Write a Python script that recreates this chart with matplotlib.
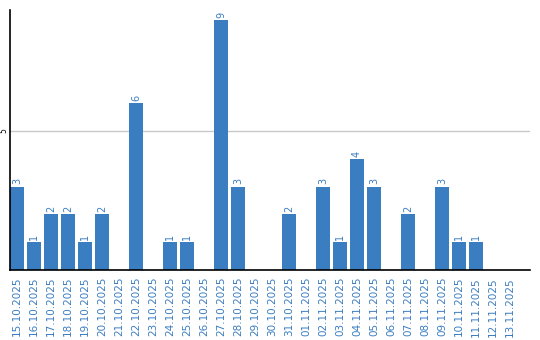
import matplotlib
matplotlib.use("Agg")
import matplotlib.pyplot as plt
import numpy as np

dates = ["15.10.2025", "16.10.2025", "17.10.2025", "18.10.2025", "19.10.2025",
         "20.10.2025", "21.10.2025", "22.10.2025", "23.10.2025", "24.10.2025",
         "25.10.2025", "26.10.2025", "27.10.2025", "28.10.2025", "29.10.2025",
         "30.10.2025", "31.10.2025", "01.11.2025", "02.11.2025", "03.11.2025",
         "04.11.2025", "05.11.2025", "06.11.2025", "07.11.2025", "08.11.2025",
         "09.11.2025", "10.11.2025", "11.11.2025", "12.11.2025", "13.11.2025"]
counts = [3, 1, 2, 2, 1, 2, 0, 6, 0, 1,
          1, 0, 9, 3, 0, 0, 2, 0, 3, 1,
          4, 3, 0, 2, 0, 3, 1, 1, 0, 0]

blue = "#3b7dc1"

fig = plt.figure(figsize=(5.4, 3.4), dpi=100)
ax = fig.add_axes([10/540, 70/340, 520/540, 260/340])

x = np.arange(len(dates))
w = 14/17
ax.bar(x, counts, width=w, color=blue, zorder=2)

for xi, c in zip(x, counts):
    if c > 0:
        ax.text(xi, c + 0.08, str(c), rotation=90, ha="center", va="bottom",
                color=blue, fontsize=7)

ax.set_xlim(-w/2, -w/2 + 520/17)
ax.set_ylim(0, 260/27.8)
ax.set_yticks([5])
ax.set_yticklabels(["5"], rotation=90, va="center", ha="right", fontsize=5.5)
ax.yaxis.grid(True, color="#c8c8c8", linewidth=1, zorder=0)
ax.tick_params(axis="y", length=0, pad=1)

ax.set_xticks(x)
ax.set_xticklabels(dates, rotation=90, color=blue, fontsize=7.5)
ax.tick_params(axis="x", length=0, pad=5)

for s in ["top", "right"]:
    ax.spines[s].set_visible(False)
ax.spines["left"].set_linewidth(1.2)
ax.spines["bottom"].set_linewidth(1.2)

fig.savefig("out.png", dpi=100)
